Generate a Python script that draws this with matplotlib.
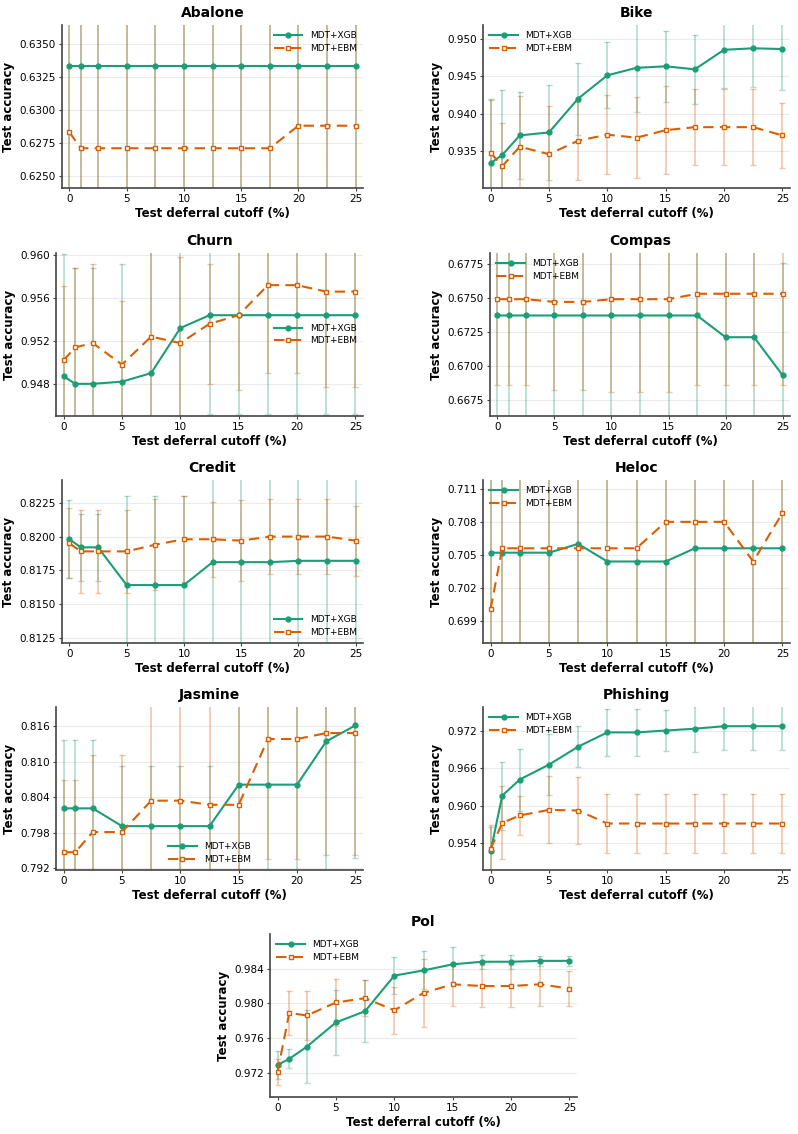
import matplotlib.pyplot as plt
from matplotlib.ticker import FormatStrFormatter
import numpy as np

cutoffs = [0, 1, 2.5, 5, 7.5, 10, 12.5, 15, 17.5, 20, 22.5, 25]

# dataset -> (xgb mean, xgb err, ebm mean, ebm err)
abalone_xgb = [0.6333] * 12
abalone_xgb_err = [0.02] * 12
abalone_ebm = [0.6283, 0.6271, 0.6271, 0.6271, 0.6271, 0.6271, 0.6271, 0.6271, 0.6271, 0.6288, 0.6288, 0.6288]
abalone_ebm_err = [0.02] * 12

bike_xgb = [0.9334, 0.9345, 0.9371, 0.9375, 0.9420, 0.9451, 0.9461, 0.9463, 0.9459, 0.9485, 0.9487, 0.9486]
bike_xgb_err = [0.0086, 0.0087, 0.0058, 0.0063, 0.0048, 0.0044, 0.0059, 0.0047, 0.0046, 0.0051, 0.0052, 0.0054]
bike_ebm = [0.9348, 0.9330, 0.9356, 0.9346, 0.9364, 0.9372, 0.9368, 0.9378, 0.9382, 0.9382, 0.9382, 0.9371]
bike_ebm_err = [0.0070, 0.0058, 0.0067, 0.0064, 0.0052, 0.0053, 0.0054, 0.0059, 0.0051, 0.0051, 0.0051, 0.0043]

churn_xgb = [0.9487, 0.9480, 0.9480, 0.9482, 0.9490, 0.9532, 0.9544, 0.9544, 0.9544, 0.9544, 0.9544, 0.9544]
churn_xgb_err = [0.0114, 0.0108, 0.0108, 0.0110, 0.0120, 0.0095, 0.0092, 0.0092, 0.0092, 0.0092, 0.0092, 0.0092]
churn_ebm = [0.9502, 0.9514, 0.9518, 0.9498, 0.9524, 0.9518, 0.9536, 0.9544, 0.9572, 0.9572, 0.9566, 0.9566]
churn_ebm_err = [0.0069, 0.0074, 0.0074, 0.0059, 0.0120, 0.0080, 0.0056, 0.0070, 0.0082, 0.0082, 0.0089, 0.0089]

compas_xgb = [0.6737] * 9 + [0.6721, 0.6721, 0.6693]
compas_xgb_err = [0.0085] * 11 + [0.0083]
compas_ebm = [0.6749, 0.6749, 0.6749, 0.6747, 0.6747, 0.6749, 0.6749, 0.6749, 0.6753, 0.6753, 0.6753, 0.6753]
compas_ebm_err = [0.0063, 0.0063, 0.0063, 0.0065, 0.0065, 0.0068, 0.0068, 0.0068, 0.0067, 0.0067, 0.0067, 0.0067]

credit_xgb = [0.8198, 0.8192, 0.8192, 0.8164, 0.8164, 0.8164, 0.8181, 0.8181, 0.8181, 0.8182, 0.8182, 0.8182]
credit_xgb_err = [0.0029, 0.0025, 0.0025, 0.0066, 0.0066, 0.0066, 0.0068, 0.0068, 0.0068, 0.0068, 0.0068, 0.0068]
credit_ebm = [0.8195, 0.8189, 0.8189, 0.8189, 0.8194, 0.8198, 0.8198, 0.8197, 0.8200, 0.8200, 0.8200, 0.8197]
credit_ebm_err = [0.0026, 0.0031, 0.0031, 0.0031, 0.0034, 0.0032, 0.0028, 0.0030, 0.0028, 0.0028, 0.0028, 0.0026]

heloc_xgb = [0.7052, 0.7052, 0.7052, 0.7052, 0.7060, 0.7044, 0.7044, 0.7044, 0.7056, 0.7056, 0.7056, 0.7056]
heloc_xgb_err = [0.013] * 12
heloc_ebm = [0.7001, 0.7056, 0.7056, 0.7056, 0.7056, 0.7056, 0.7056, 0.7080, 0.7080, 0.7080, 0.7044, 0.7088]
heloc_ebm_err = [0.013] * 12

jasmine_xgb = [0.8021, 0.8021, 0.8021, 0.7991, 0.7991, 0.7991, 0.7991, 0.8061, 0.8061, 0.8061, 0.8134, 0.8161]
jasmine_xgb_err = [0.0116, 0.0116, 0.0116, 0.0102, 0.0102, 0.0102, 0.0102, 0.0160, 0.0160, 0.0160, 0.0230, 0.0224]
jasmine_ebm = [0.7947, 0.7947, 0.7981, 0.7981, 0.8034, 0.8034, 0.8027, 0.8027, 0.8138, 0.8138, 0.8148, 0.8148]
jasmine_ebm_err = [0.0122, 0.0122, 0.0130, 0.0130, 0.0170, 0.0170, 0.0170, 0.0170, 0.0202, 0.0202, 0.0206, 0.0206]

phishing_xgb = [0.9526, 0.9616, 0.9642, 0.9666, 0.9695, 0.9718, 0.9718, 0.9721, 0.9724, 0.9728, 0.9728, 0.9728]
phishing_xgb_err = [0.0040, 0.0055, 0.0050, 0.0049, 0.0033, 0.0038, 0.0038, 0.0033, 0.0037, 0.0039, 0.0039, 0.0039]
phishing_ebm = [0.9530, 0.9572, 0.9584, 0.9593, 0.9592, 0.9571, 0.9571, 0.9571, 0.9571, 0.9571, 0.9571, 0.9571]
phishing_ebm_err = [0.0039, 0.0059, 0.0032, 0.0054, 0.0054, 0.0048, 0.0048, 0.0048, 0.0048, 0.0048, 0.0048, 0.0048]

pol_xgb = [0.9729, 0.9736, 0.9750, 0.9778, 0.9791, 0.9832, 0.9838, 0.9845, 0.9848, 0.9848, 0.9849, 0.9849]
pol_xgb_err = [0.0016, 0.0011, 0.0042, 0.0037, 0.0036, 0.0021, 0.0022, 0.0020, 0.0008, 0.0008, 0.0006, 0.0006]
pol_ebm = [0.9721, 0.9789, 0.9786, 0.9801, 0.9806, 0.9792, 0.9812, 0.9822, 0.9820, 0.9820, 0.9822, 0.9817]
pol_ebm_err = [0.0015, 0.0025, 0.0028, 0.0027, 0.0021, 0.0027, 0.0039, 0.0025, 0.0024, 0.0024, 0.0025, 0.0020]

titles = ["Abalone", "Bike", "Churn", "Compas", "Credit", "Heloc", "Jasmine", "Phishing", "Pol"]
series = [
    (abalone_xgb, abalone_xgb_err, abalone_ebm, abalone_ebm_err),
    (bike_xgb, bike_xgb_err, bike_ebm, bike_ebm_err),
    (churn_xgb, churn_xgb_err, churn_ebm, churn_ebm_err),
    (compas_xgb, compas_xgb_err, compas_ebm, compas_ebm_err),
    (credit_xgb, credit_xgb_err, credit_ebm, credit_ebm_err),
    (heloc_xgb, heloc_xgb_err, heloc_ebm, heloc_ebm_err),
    (jasmine_xgb, jasmine_xgb_err, jasmine_ebm, jasmine_ebm_err),
    (phishing_xgb, phishing_xgb_err, phishing_ebm, phishing_ebm_err),
    (pol_xgb, pol_xgb_err, pol_ebm, pol_ebm_err),
]
ylims = [(0.6241, 0.6364), (0.9301, 0.9518), (0.9450, 0.9602), (0.6663, 0.6783),
         (0.8121, 0.8242), (0.6970, 0.7118), (0.7917, 0.8192), (0.9496, 0.9759),
         (0.9692, 0.9880)]
yticks = [np.arange(0.6250, 0.6351, 0.0025), np.arange(0.935, 0.9501, 0.005),
          np.arange(0.948, 0.9601, 0.004), np.arange(0.6675, 0.6776, 0.0025),
          np.arange(0.8125, 0.8226, 0.0025), np.arange(0.699, 0.7111, 0.003),
          np.arange(0.792, 0.8161, 0.006), np.arange(0.954, 0.9721, 0.006),
          np.arange(0.972, 0.9841, 0.004)]
yfmt = ["%.4f", "%.3f", "%.3f", "%.4f", "%.4f", "%.3f", "%.3f", "%.3f", "%.3f"]
legend_loc = ["upper right", "upper left", "center right", "upper left", "lower right",
              "upper left", "lower center", "upper left", "upper left"]

# axes boxes in pixels: left, top, right
boxes = [(62, 25, 363), (483, 25, 790), (56, 253, 363), (490, 253, 790),
         (62, 480, 363), (483, 480, 790), (56, 707, 363), (483, 707, 790),
         (270, 934, 577)]
W, H, AXH = 798, 1134, 163

GREEN = "#1b9e77"
ORANGE = "#d95f02"

fig = plt.figure(figsize=(W / 100, H / 100), dpi=100)

for i, (title, (xm, xe, em, ee)) in enumerate(zip(titles, series)):
    l, t, r = boxes[i]
    ax = fig.add_axes([l / W, 1 - (t + AXH) / H, (r - l) / W, AXH / H])
    ax.errorbar(cutoffs, xm, yerr=xe, fmt="none", ecolor=GREEN, alpha=0.35,
                elinewidth=1.2, capsize=2, capthick=1)
    ax.errorbar(cutoffs, em, yerr=ee, fmt="none", ecolor=ORANGE, alpha=0.35,
                elinewidth=1.2, capsize=2, capthick=1)
    ax.plot(cutoffs, xm, color=GREEN, lw=1.5, marker="o", ms=3.5, label="MDT+XGB")
    ax.plot(cutoffs, em, color=ORANGE, lw=1.5, ls="--", dashes=(5, 3), marker="s", ms=3.5,
            mfc="white", mec=ORANGE, label="MDT+EBM")
    ax.set_xlim(-0.65, 25.65)
    ax.set_ylim(*ylims[i])
    ax.set_xticks([0, 5, 10, 15, 20, 25])
    ax.set_yticks(yticks[i])
    ax.yaxis.set_major_formatter(FormatStrFormatter(yfmt[i]))
    ax.grid(axis="y", color="#ebebeb", lw=0.8)
    ax.set_axisbelow(True)
    for s in ["top", "right"]:
        ax.spines[s].set_visible(False)
    for s in ["left", "bottom"]:
        ax.spines[s].set_color("#444444")
        ax.spines[s].set_linewidth(1.2)
    ax.tick_params(labelsize=7.5, length=2.5, width=0.8, color="#444444", pad=2)
    ax.set_title(title, fontsize=10, fontweight="bold", pad=6)
    ax.set_xlabel("Test deferral cutoff (%)", fontsize=8.5, fontweight="bold", labelpad=2)
    ax.set_ylabel("Test accuracy", fontsize=8.5, fontweight="bold", labelpad=3)
    ax.legend(loc=legend_loc[i], frameon=False, fontsize=6.5, handlelength=3.2,
              borderaxespad=0.3, labelspacing=0.4)

fig.savefig("out.png", dpi=100, facecolor="white")
